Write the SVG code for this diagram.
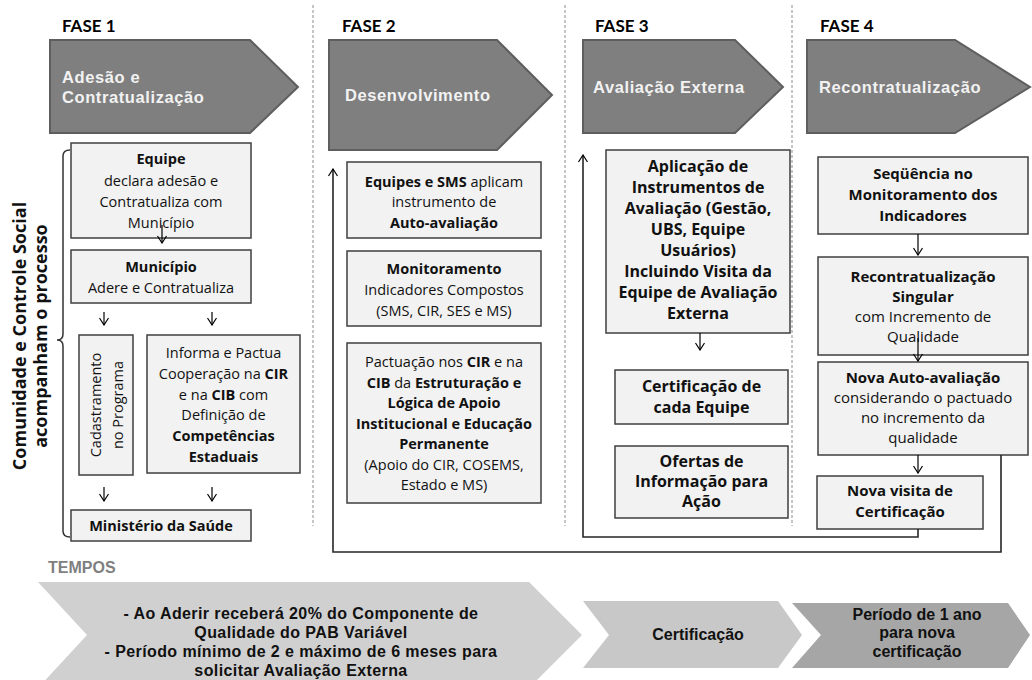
<svg xmlns="http://www.w3.org/2000/svg" width="1032" height="680" viewBox="0 0 1032 680">
<defs>
<style>
.box{fill:#f2f2f2;stroke:#3f3f3f;stroke-width:1.5}
.hdr{fill:#7f7f7f;stroke:#5e5e5e;stroke-width:2}
.t{font-family:'Open Sans',Lato,sans-serif;font-size:14.5px;fill:#111;text-anchor:middle}
.s3{font-size:16px}
.s4{font-size:15px}
.b{font-weight:700}
.vt{font-family:'Open Sans',Lato,sans-serif;font-size:18px;font-weight:700;fill:#111;text-anchor:middle}
.fase{font-family:Lato,'Open Sans',sans-serif;font-size:17px;font-weight:700;fill:#000}
.ht{font-family:'Liberation Sans',Arial,sans-serif;font-size:16.5px;font-weight:700;fill:#f2f2f2;letter-spacing:0.6px}
.ct{font-family:'Liberation Sans',Arial,sans-serif;font-size:16px;font-weight:700;fill:#111;text-anchor:middle}
.ls{letter-spacing:0.4px}
.sep{stroke:#8c8c8c;stroke-width:1;stroke-dasharray:3 2;fill:none}
.ar{stroke:#000;stroke-width:1.2;fill:none;marker-end:url(#ah)}
.loop{stroke:#262626;stroke-width:1.6;fill:none}
</style>
<marker id="ah" viewBox="0 0 10 10" refX="9" refY="5" markerWidth="10" markerHeight="10" markerUnits="userSpaceOnUse" orient="auto">
<path d="M2,0.5 L9,5 L2,9.5" fill="none" stroke="#000" stroke-width="1.2"/>
</marker>
</defs>
<rect width="1032" height="680" fill="#fff"/>

<g id="separators">
<line class="sep" x1="313" y1="5" x2="313" y2="526"/>
<line class="sep" x1="565" y1="5" x2="565" y2="526"/>
<line class="sep" x1="792" y1="5" x2="792" y2="526"/>
</g>

<g id="fase1">
<text class="fase" x="62" y="32">FASE 1</text>
<path class="hdr" d="M50,40 H250 L298,87 L250,133 H50 Z"/>
<text class="ht" x="62" y="83">Adesão e</text>
<text class="ht" x="62" y="103">Contratualização</text>
</g>
<g id="fase2">
<text class="fase" x="342" y="32">FASE 2</text>
<path class="hdr" d="M329,40 H497 L552,95 L497,150 H329 Z"/>
<text class="ht" x="345" y="101">Desenvolvimento</text>
</g>
<g id="fase3">
<text class="fase" x="595" y="32">FASE 3</text>
<path class="hdr" d="M583,40 H735 L783,87 L735,133 H583 Z"/>
<text class="ht" x="593" y="93">Avaliação Externa</text>
</g>
<g id="fase4">
<text class="fase" x="820" y="32">FASE 4</text>
<path class="hdr" d="M807,40 H955 L1030,87 L955,133 H807 Z"/>
<text class="ht" x="819" y="93">Recontratualização</text>
</g>

<g id="comunidade">
<path d="M70,150 Q63,150 63,156 V334 Q63,340 57,340 Q63,340 63,346 V531 Q63,537 70,537" fill="none" stroke="#333" stroke-width="1.5"/>
<text class="vt" transform="translate(26,336) rotate(-90)">Comunidade e Controle Social</text>
<text class="vt" transform="translate(47,336) rotate(-90)">acompanham o processo</text>
</g>

<g id="n_equipe">
<rect class="box" x="71" y="143" width="180" height="95"/>
<text class="t b" x="161" y="164">Equipe</text>
<text class="t" x="161" y="186">declara adesão e</text>
<text class="t" x="161" y="207">Contratualiza com</text>
<text class="t" x="161" y="228">Município</text>
</g>
<g id="n_municipio">
<rect class="box" x="71" y="250" width="180" height="53"/>
<text class="t b" x="161" y="272">Município</text>
<text class="t" x="161" y="293">Adere e Contratualiza</text>
</g>
<g id="n_cadastramento">
<rect class="box" x="79" y="335" width="54" height="140"/>
<text class="t" transform="translate(101,405) rotate(-90)">Cadastramento</text>
<text class="t" transform="translate(123,405) rotate(-90)">no Programa</text>
</g>
<g id="n_informa">
<rect class="box" x="147" y="335" width="153" height="138"/>
<text class="t" x="223.5" y="358">Informa e Pactua</text>
<text class="t" x="223.5" y="379">Cooperação na <tspan class="b">CIR</tspan></text>
<text class="t" x="223.5" y="400">e na <tspan class="b">CIB</tspan> com</text>
<text class="t" x="223.5" y="420">Definição de</text>
<text class="t b" x="223.5" y="441">Competências</text>
<text class="t b" x="223.5" y="462">Estaduais</text>
</g>
<g id="n_ministerio">
<rect class="box" x="71" y="510" width="180" height="31"/>
<text class="t b" x="161" y="531">Ministério da Saúde</text>
</g>

<g id="n_autoavaliacao">
<rect class="box" x="347" y="162" width="194" height="76"/>
<text class="t" x="444" y="187"><tspan class="b">Equipes e SMS</tspan> aplicam</text>
<text class="t" x="444" y="207">instrumento de</text>
<text class="t b" x="444" y="228">Auto-avaliação</text>
</g>
<g id="n_monitoramento">
<rect class="box" x="347" y="251" width="194" height="75"/>
<text class="t b" x="444" y="274">Monitoramento</text>
<text class="t" x="444" y="295">Indicadores Compostos</text>
<text class="t" x="444" y="316">(SMS, CIR, SES e MS)</text>
</g>
<g id="n_pactuacao">
<rect class="box" x="347" y="343" width="194" height="160"/>
<text class="t" x="444" y="367">Pactuação nos <tspan class="b">CIR</tspan> e na</text>
<text class="t" x="444" y="388"><tspan class="b">CIB</tspan> da <tspan class="b">Estruturação e</tspan></text>
<text class="t b" x="444" y="408">Lógica de Apoio</text>
<text class="t b" x="444" y="429">Institucional e Educação</text>
<text class="t b" x="444" y="449">Permanente</text>
<text class="t" x="444" y="470">(Apoio do CIR, COSEMS,</text>
<text class="t" x="444" y="490">Estado e MS)</text>
</g>

<g id="n_aplicacao">
<rect class="box" x="606" y="150" width="184" height="183"/>
<text class="t s3 b" x="698" y="172">Aplicação de</text>
<text class="t s3 b" x="698" y="193">Instrumentos de</text>
<text class="t s3 b" x="698" y="214">Avaliação (Gestão,</text>
<text class="t s3 b" x="698" y="235">UBS, Equipe</text>
<text class="t s3 b" x="698" y="256">Usuários)</text>
<text class="t s3 b" x="698" y="277">Incluindo Visita da</text>
<text class="t s3 b" x="698" y="298">Equipe de Avaliação</text>
<text class="t s3 b" x="698" y="319">Externa</text>
</g>
<g id="n_certificacao">
<rect class="box" x="615" y="370" width="173" height="54"/>
<text class="t s3 b" x="701.5" y="392">Certificação de</text>
<text class="t s3 b" x="701.5" y="413">cada Equipe</text>
</g>
<g id="n_ofertas">
<rect class="box" x="615" y="446" width="173" height="72"/>
<text class="t s3 b" x="701.5" y="467">Ofertas de</text>
<text class="t s3 b" x="701.5" y="487">Informação para</text>
<text class="t s3 b" x="701.5" y="507">Ação</text>
</g>

<g id="n_sequencia">
<rect class="box" x="818" y="157" width="210" height="77"/>
<text class="t s4 b" x="923" y="179">Seqüência no</text>
<text class="t s4 b" x="923" y="200">Monitoramento dos</text>
<text class="t s4 b" x="923" y="221">Indicadores</text>
</g>
<g id="n_recontratualizacao">
<rect class="box" x="818" y="257" width="210" height="98"/>
<text class="t s4 b" x="923" y="282">Recontratualização</text>
<text class="t s4 b" x="923" y="302">Singular</text>
<text class="t s4" x="923" y="322">com Incremento de</text>
<text class="t s4" x="923" y="342">Qualidade</text>
</g>
<g id="n_nova_auto">
<rect class="box" x="818" y="362" width="210" height="93"/>
<text class="t s4 b" x="923" y="383">Nova Auto-avaliação</text>
<text class="t s4" x="923" y="403">considerando o pactuado</text>
<text class="t s4" x="923" y="423">no incremento da</text>
<text class="t s4" x="923" y="443">qualidade</text>
</g>
<g id="n_nova_visita">
<rect class="box" x="817" y="476" width="166" height="53"/>
<text class="t s4 b" x="900" y="496">Nova visita de</text>
<text class="t s4 b" x="900" y="517">Certificação</text>
</g>

<g id="connectors">
<path class="ar" d="M162,225 V243"/>
<path class="ar" d="M104,312 V325"/>
<path class="ar" d="M212,312 V325"/>
<path class="ar" d="M104,487 V501"/>
<path class="ar" d="M212,487 V501"/>
<path class="ar" d="M700,333 V350"/>
<path class="ar" d="M918,234 V255"/>
<path class="ar" d="M918,338 V361"/>
<path class="ar" d="M918,455 V473"/>
<path class="loop" d="M918,529 V537 H583 V155" marker-end="url(#ah)"/>
<path class="loop" d="M1001,455 V552 H333 V169" marker-end="url(#ah)"/>
</g>

<g id="tempos">
<text x="48" y="573" font-family="'Liberation Sans',Arial,sans-serif" font-size="16" font-weight="700" fill="#7f7f7f">TEMPOS</text>
<path d="M38,582 H529 L582,635 L529,688 H38 L87,635 Z" fill="#d0d0d0"/>
<text class="ct ls" x="301" y="619">- Ao Aderir receberá 20% do Componente de</text>
<text class="ct ls" x="301" y="638">Qualidade do PAB Variável</text>
<text class="ct ls" x="301" y="657">- Período mínimo de 2 e máximo de 6 meses para</text>
<text class="ct ls" x="301" y="676">solicitar Avaliação Externa</text>
<path d="M583,601 H778 L802,635 L778,668 H583 L609,635 Z" fill="#c8c8c8"/>
<text class="ct" x="698" y="640">Certificação</text>
<path d="M792,603 H1008 L1030,635 L1008,668 H792 L821,635 Z" fill="#a6a6a6"/>
<text class="ct" x="917" y="620">Período de 1 ano</text>
<text class="ct" x="917" y="638">para nova</text>
<text class="ct" x="917" y="657">certificação</text>
</g>
</svg>
